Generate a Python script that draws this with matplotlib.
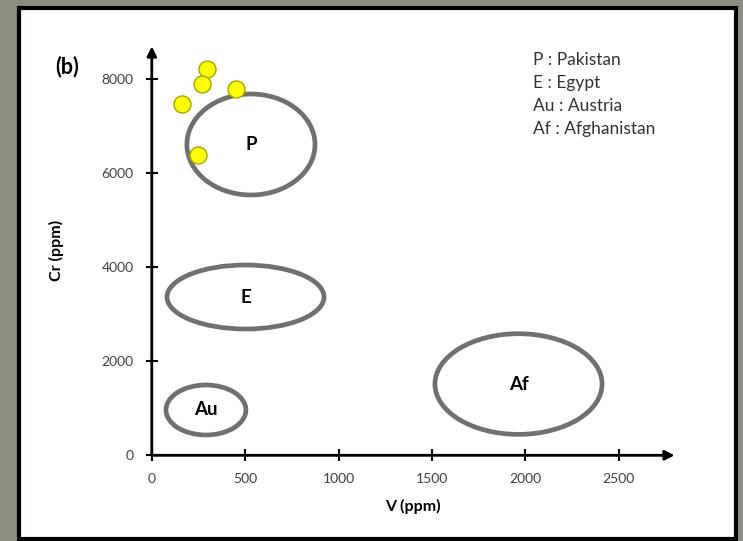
import matplotlib.pyplot as plt
from matplotlib.patches import Ellipse, Rectangle

# yellow sample points (V, Cr)
sample_v = [160, 296, 269, 449, 247]
sample_cr = [7474, 8219, 7894, 7787, 6389]

# source fields: label, centre V, centre Cr, width, height
field_names = ["P", "E", "Au", "Af"]
field_v = [531, 502, 290, 1964]
field_cr = [6613, 3368, 964, 1516]
field_w = [686, 841, 428, 895]
field_h = [2149, 1362, 1064, 2142]

legend_lines = ["P : Pakistan", "E : Egypt", "Au : Austria", "Af : Afghanistan"]

xticks = [0, 500, 1000, 1500, 2000, 2500]
yticks = [0, 2000, 4000, 6000, 8000]

W, H = 743, 541
fontname = ["Lato", "DejaVu Sans"]
plt.rcParams['font.family'] = fontname

fig = plt.figure(figsize=(W / 100, H / 100), dpi=100)
fig.patch.set_facecolor("#8b8d7e")

# white panel with black frame
panel = Rectangle((19 / W, 1 - 539 / H), (736 - 19) / W, (539 - 8) / H,
                  transform=fig.transFigure, facecolor="white",
                  edgecolor="black", linewidth=3.0, zorder=-10)
fig.patches.append(panel)

ax = fig.add_axes([151.8 / W, (H - 455.3) / H, 522.8 / W, 408.9 / H])
ax.set_zorder(1)
ax.patch.set_alpha(0)
ax.set_xlim(0, 2800)
ax.set_ylim(0, 8700)

for s in ax.spines.values():
    s.set_visible(False)

# axis arrows
ax.annotate("", xy=(1.0, 0), xytext=(0, 0), xycoords="axes fraction",
            arrowprops=dict(arrowstyle="-|>", color="black", lw=2.0,
                            mutation_scale=14, shrinkA=0, shrinkB=0))
ax.annotate("", xy=(0, 1.0), xytext=(0, 0), xycoords="axes fraction",
            arrowprops=dict(arrowstyle="-|>", color="black", lw=2.0,
                            mutation_scale=14, shrinkA=0, shrinkB=0))

ax.set_xticks(xticks)
ax.set_yticks(yticks)
ax.set_xticklabels([str(t) for t in xticks])
ax.set_yticklabels([str(t) for t in yticks])
ax.tick_params(direction="inout", length=8, width=1.5, color="black",
               labelsize=10, labelcolor="#404040")
ax.tick_params(axis="x", pad=9)
ax.tick_params(axis="y", pad=9)

for n in range(len(field_names)):
    e = Ellipse((field_v[n], field_cr[n]), field_w[n], field_h[n],
                facecolor="none", edgecolor="#707070", linewidth=3.4, zorder=2)
    ax.add_patch(e)
    ax.text(field_v[n], field_cr[n], field_names[n], ha="center", va="center",
            fontsize=13.5, fontweight="bold", color="black", zorder=3)

ax.scatter(sample_v, sample_cr, s=150, c="#ffff00", edgecolors="#a6a600",
           linewidths=1.0, zorder=4, clip_on=False)

ax.set_xlabel("V (ppm)", fontsize=11.5, fontweight="bold", labelpad=10)
ax.set_ylabel("Cr (ppm)", fontsize=11.5, fontweight="bold", labelpad=27)

fig.text(67 / W, 1 - 67 / H, "(b)", fontsize=15.5, fontweight="bold",
         ha="center", va="center")

for i, line in enumerate(legend_lines):
    fig.text(533 / W, 1 - (60 + 23 * i) / H, line, fontsize=12.5,
             color="#333333", ha="left", va="center")

fig.savefig("out.png", dpi=100, facecolor=fig.get_facecolor())
